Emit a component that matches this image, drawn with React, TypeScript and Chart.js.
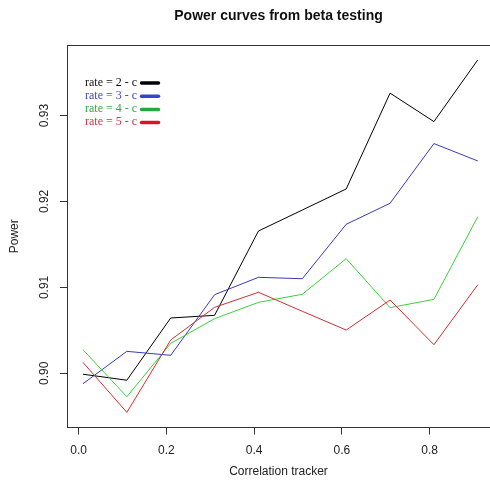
import React, { useEffect, useRef } from "react";
import { Chart, registerables } from "chart.js";

Chart.register(...registerables);

const TITLE = "Power curves from beta testing";
const X_LABEL = "Correlation tracker";
const Y_LABEL = "Power";

const CORRELATION = [0.01, 0.11, 0.21, 0.31, 0.41, 0.51, 0.61, 0.71, 0.81, 0.91];
const RATE2 = [0.8999, 0.8992, 0.90644, 0.90675, 0.91656, 0.919, 0.92145, 0.9326, 0.92929, 0.93647];
const RATE3 = [0.89879, 0.90256, 0.9021, 0.90915, 0.91117, 0.91101, 0.91734, 0.91979, 0.92673, 0.92471];
const RATE4 = [0.90275, 0.89728, 0.90349, 0.90636, 0.90826, 0.9092, 0.91334, 0.90764, 0.90861, 0.91823];
const RATE5 = [0.90128, 0.89546, 0.90388, 0.90768, 0.90943, 0.90722, 0.90504, 0.90853, 0.90333, 0.91031];

const SERIES_NAMES = ["rate = 2 - c", "rate = 3 - c", "rate = 4 - c", "rate = 5 - c"];
const SERIES_VALUES = [RATE2, RATE3, RATE4, RATE5];
const LINE_COLORS = ["#000000", "#3a3ab8", "#3ccf3c", "#cc3030"];
const LEGEND_TEXT_COLORS = ["#111111", "#4646c4", "#34a84e", "#c83646"];
const LEGEND_LINE_COLORS = ["#000000", "#3347cc", "#23a845", "#dd1422"];

const X_TICKS = [0.0, 0.2, 0.4, 0.6, 0.8];
const Y_TICKS = [0.9, 0.91, 0.92, 0.93];

const X_MIN = -0.0264;
const X_MAX = 0.9378;
const Y_MIN = 0.8937;
const Y_MAX = 0.9382;

const AXIS_COLOR = "#333333";
const TEXT_COLOR = "#222222";
const SANS = "'Liberation Sans', Arial, sans-serif";
const SERIF = "'Liberation Serif', 'Times New Roman', serif";

const boxAndTextPlugin = {
  id: "boxAndText",
  afterDraw(chart: any) {
    const { ctx, chartArea } = chart;
    ctx.save();
    // top border of plot box
    ctx.strokeStyle = AXIS_COLOR;
    ctx.lineWidth = 1;
    ctx.beginPath();
    ctx.moveTo(chartArea.left, Math.round(chartArea.top) + 0.5);
    ctx.lineTo(chartArea.right, Math.round(chartArea.top) + 0.5);
    ctx.stroke();

    // title
    ctx.fillStyle = "#111111";
    ctx.font = `bold 14px ${SANS}`;
    ctx.textAlign = "center";
    ctx.textBaseline = "middle";
    ctx.fillText(TITLE, (chartArea.left + chartArea.right) / 2, 16);

    // legend
    ctx.font = `12px ${SERIF}`;
    ctx.textAlign = "left";
    ctx.textBaseline = "middle";
    const x0 = chartArea.left + 18;
    const y0 = chartArea.top + 37.5;
    const step = 13.2;
    SERIES_NAMES.forEach((name, i) => {
      const y = y0 + i * step;
      ctx.fillStyle = LEGEND_TEXT_COLORS[i];
      ctx.fillText(name, x0, y);
      ctx.strokeStyle = LEGEND_LINE_COLORS[i];
      ctx.lineWidth = 3.5;
      ctx.lineCap = "round";
      ctx.beginPath();
      ctx.moveTo(x0 + 56.5, y + 0.5);
      ctx.lineTo(x0 + 73.5, y + 0.5);
      ctx.stroke();
    });
    ctx.restore();
  },
};

export default function App() {
  const canvasRef = useRef<HTMLCanvasElement | null>(null);

  useEffect(() => {
    const canvas = canvasRef.current;
    if (!canvas) return;
    const datasets = SERIES_VALUES.map((vals, i) => ({
      label: SERIES_NAMES[i],
      data: CORRELATION.map((x, j) => ({ x, y: vals[j] })),
      borderColor: LINE_COLORS[i],
      backgroundColor: LINE_COLORS[i],
      borderWidth: 1,
      pointRadius: 0,
      tension: 0,
      fill: false,
      order: SERIES_VALUES.length - i,
    }));

    const chart = new Chart(canvas, {
      type: "line",
      data: { datasets },
      options: {
        animation: false,
        responsive: false,
        devicePixelRatio: 1,
        layout: { padding: { top: 45, right: 0, bottom: 0, left: 0 } },
        plugins: {
          legend: { display: false },
          title: { display: false },
          tooltip: { enabled: false },
        },
        scales: {
          x: {
            type: "linear",
            min: X_MIN,
            max: X_MAX,
            afterBuildTicks: (scale: any) => {
              scale.ticks = X_TICKS.map((v) => ({ value: v }));
            },
            afterFit: (scale: any) => {
              scale.height = 61.5;
            },
            ticks: {
              callback: (v: any) => Number(v).toFixed(1),
              font: { family: SANS, size: 12 },
              color: TEXT_COLOR,
              padding: 9,
              maxRotation: 0,
              autoSkip: false,
            },
            grid: {
              display: true,
              drawOnChartArea: false,
              drawTicks: true,
              tickLength: 7,
              color: AXIS_COLOR,
            },
            border: { display: true, color: AXIS_COLOR, width: 1 },
            title: {
              display: true,
              text: X_LABEL,
              font: { family: SANS, size: 12 },
              color: TEXT_COLOR,
              padding: { top: 0, bottom: 10 },
            },
          },
          y: {
            type: "linear",
            min: Y_MIN,
            max: Y_MAX,
            afterBuildTicks: (scale: any) => {
              scale.ticks = Y_TICKS.map((v) => ({ value: v }));
            },
            afterFit: (scale: any) => {
              scale.width = 67;
            },
            ticks: {
              callback: (v: any) => Number(v).toFixed(2),
              font: { family: SANS, size: 12 },
              color: TEXT_COLOR,
              minRotation: 90,
              maxRotation: 90,
              crossAlign: "center",
              padding: 4,
              autoSkip: false,
            },
            grid: {
              display: true,
              drawOnChartArea: false,
              drawTicks: true,
              tickLength: 7,
              color: AXIS_COLOR,
            },
            border: { display: true, color: AXIS_COLOR, width: 1 },
            title: {
              display: true,
              text: Y_LABEL,
              font: { family: SANS, size: 12 },
              color: TEXT_COLOR,
              padding: { top: 7, bottom: 0 },
            },
          },
        },
      },
      plugins: [boxAndTextPlugin],
    });
    return () => chart.destroy();
  }, []);

  return (
    <div style={{ position: "fixed", left: 0, top: 0, width: 490, height: 489, background: "#ffffff" }}>
      <canvas ref={canvasRef} width={490} height={489} style={{ display: "block", width: 490, height: 489 }} />
    </div>
  );
}
